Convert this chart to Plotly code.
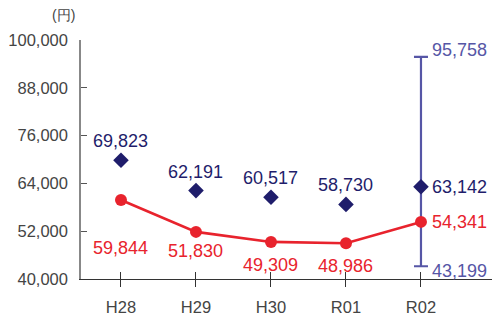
import plotly.graph_objects as go

categories = ["H28", "H29", "H30", "R01", "R02"]
blue_values = [69823, 62191, 60517, 58730, 63142]
red_values = [59844, 51830, 49309, 48986, 54341]
r02_max = 95758
r02_min = 43199
y_ticks = [40000, 52000, 64000, 76000, 88000, 100000]

BLUE = "#1f1d6b"
RED = "#e8232d"
ERR = "#5656a6"
FONT = "Liberation Sans"
LBL = 18

fig = go.Figure()

# error bar (range) for R02
last = categories[-1]
fig.add_trace(go.Scatter(
    x=[last], y=[blue_values[-1]], mode="markers",
    marker=dict(size=0.1, color="rgba(0,0,0,0)"),
    error_y=dict(type="data", symmetric=False,
                 array=[r02_max - blue_values[-1]],
                 arrayminus=[blue_values[-1] - r02_min],
                 color=ERR, thickness=2.2, width=7),
    hoverinfo="skip", showlegend=False))

fig.add_trace(go.Scatter(
    x=categories, y=red_values, mode="lines+markers",
    line=dict(color=RED, width=2.6),
    marker=dict(size=12, color=RED), showlegend=False))

fig.add_trace(go.Scatter(
    x=categories, y=blue_values, mode="markers",
    marker=dict(symbol="diamond", size=12, color=BLUE), showlegend=False))

# dummy trace for the crossing tick marks axis
fig.add_trace(go.Scatter(x=categories, y=red_values, xaxis="x2", mode="markers",
                         marker=dict(size=0.1, color="rgba(0,0,0,0)"),
                         hoverinfo="skip", showlegend=False))

def fmt(v):
    return f"{v:,}"

# labels
for i, (c, v) in enumerate(zip(categories, blue_values)):
    if i == len(categories) - 1:
        fig.add_annotation(x=c, y=v, text=fmt(v), showarrow=False, xanchor="left",
                           xshift=9, yshift=0, font=dict(color=BLUE, size=LBL, family=FONT))
    else:
        fig.add_annotation(x=c, y=v, text=fmt(v), showarrow=False, yanchor="bottom",
                           yshift=7, font=dict(color=BLUE, size=LBL, family=FONT))

red_shifts = [-36, -7, -11, -11, 0]
for i, (c, v) in enumerate(zip(categories, red_values)):
    if i == len(categories) - 1:
        fig.add_annotation(x=c, y=v, text=fmt(v), showarrow=False, xanchor="left",
                           xshift=9, yshift=0, font=dict(color=RED, size=LBL, family=FONT))
    else:
        fig.add_annotation(x=c, y=v, text=fmt(v), showarrow=False, yanchor="top",
                           yshift=red_shifts[i], font=dict(color=RED, size=LBL, family=FONT))

fig.add_annotation(x=last, y=r02_max, text=fmt(r02_max), showarrow=False, xanchor="left",
                   xshift=9, yshift=7, font=dict(color=ERR, size=LBL, family=FONT))
fig.add_annotation(x=last, y=r02_min, text=fmt(r02_min), showarrow=False, xanchor="left",
                   xshift=9, yshift=-5, font=dict(color=ERR, size=LBL, family=FONT))

fig.add_annotation(xref="paper", yref="paper", x=-0.075, y=1.0, yanchor="middle",
                   yshift=25, text="(円)", showarrow=False,
                   font=dict(color="#444444", size=14, family=FONT))

xrange = [-0.533, 4.947]
fig.update_layout(
    width=492, height=317,
    margin=dict(l=81, r=0, t=40, b=38),
    paper_bgcolor="white", plot_bgcolor="white",
    font=dict(family=FONT, color="#444444"),
    xaxis=dict(type="category", categoryorder="array", categoryarray=categories,
               range=xrange, showgrid=False, zeroline=False,
               showline=True, linecolor="#333333", linewidth=1.2,
               ticks="outside", ticklen=7, tickcolor="#333333", tickwidth=1,
               tickfont=dict(size=16.5, color="#444444"), ticklabelstandoff=6),
    xaxis2=dict(type="category", categoryorder="array", categoryarray=categories,
                range=xrange, overlaying="x", anchor="y", showgrid=False,
                zeroline=False, showline=False, showticklabels=False,
                ticks="inside", ticklen=7, tickcolor="#333333", tickwidth=1,
                side="bottom"),
    yaxis=dict(range=[40000, 100000], tickvals=y_ticks, tickformat=",",
               showgrid=False, zeroline=False,
               showline=True, linecolor="#888888", linewidth=1.5,
               ticks="inside", ticklen=6, tickcolor="#555555", tickwidth=1,
               tickfont=dict(size=16.5, color="#444444"), ticklabelstandoff=8),
)

fig.write_html("out.html", config={"displayModeBar": False},
               post_script="document.body.style.margin='0';document.body.style.padding='0';")
